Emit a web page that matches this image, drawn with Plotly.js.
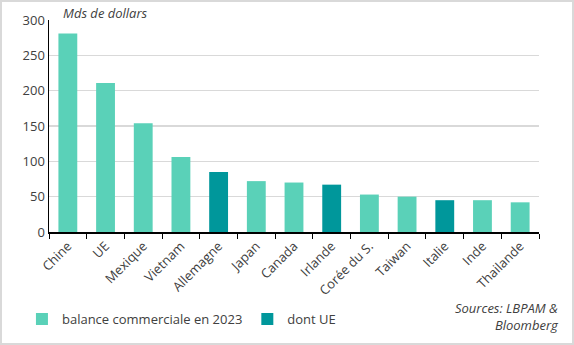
<!DOCTYPE html>
<html><head><meta charset="utf-8">
<script src="https://cdn.plot.ly/plotly-3.0.1.min.js"></script>
<style>html,body{margin:0;padding:0;background:#fff}#c{width:574px;height:345px;box-sizing:border-box;border:2px solid #d9d9d9}</style>
</head><body><div id="c"></div>
<script>
const categories = ["Chine","UE","Mexique","Vietnam","Allemagne","Japan","Canada","Irlande","Corée du S.","Taiwan","Italie","Inde","Thailande"];
const balance = [281, 211, 154, 106, null, 72, 70, null, 53, 50, null, 45, 42];
const dontUE = [null, null, null, null, 85, null, null, 67, null, null, 45, null, null];
const yTicks = [0, 50, 100, 150, 200, 250, 300];

const font = "Open Sans, Lato, sans-serif";
const traces = [
  {type:'bar', x:categories, y:balance, name:'balance commerciale en 2023', marker:{color:'#5ad1b8'}, width:0.5},
  {type:'bar', x:categories, y:dontUE, name:'dont UE', marker:{color:'#00979b'}, width:0.5}
];
const layout = {
  width:570, height:341,
  margin:{l:47, r:33, t:18, b:111, autoexpand:false},
  barmode:'overlay',
  paper_bgcolor:'#fff', plot_bgcolor:'#fff',
  font:{family:font, size:13, color:'#404040'},
  xaxis:{type:'category', tickangle:-45, showline:true, linecolor:'#000', linewidth:1.5, automargin:false,
         ticks:'outside', tickson:'boundaries', ticklen:5, tickcolor:'#000', tickfont:{size:13, color:'#404040'}},
  yaxis:{range:[0,300], tickvals:yTicks, showgrid:true, gridcolor:'#d9d9d9', gridwidth:1.5, automargin:false,
         showline:true, linecolor:'#000', linewidth:1.5, ticks:'', tickfont:{size:13,color:'#404040'}, zeroline:false},
  showlegend:true,
  legend:{orientation:'h', x:0.035, xref:'container', xanchor:'left', y:0.07, yref:'container', yanchor:'middle',
          font:{size:13,color:'#404040'}, itemwidth:30, traceorder:'normal', bgcolor:'rgba(0,0,0,0)'},
  annotations:[
    {text:'<i>Mds de dollars</i>', xref:'paper', yref:'paper', x:0.025, y:1.035, xanchor:'left', yanchor:'middle', showarrow:false, font:{size:13,color:'#404040'}},
    {text:'<i>Sources: LBPAM &amp;<br>Bloomberg</i>', xref:'paper', yref:'paper', x:1.045, y:-0.40, xanchor:'right', yanchor:'middle', align:'right', showarrow:false, font:{size:13,color:'#404040'}}
  ]
};
Plotly.newPlot('c', traces, layout, {displayModeBar:false, staticPlot:true});
</script></body></html>
